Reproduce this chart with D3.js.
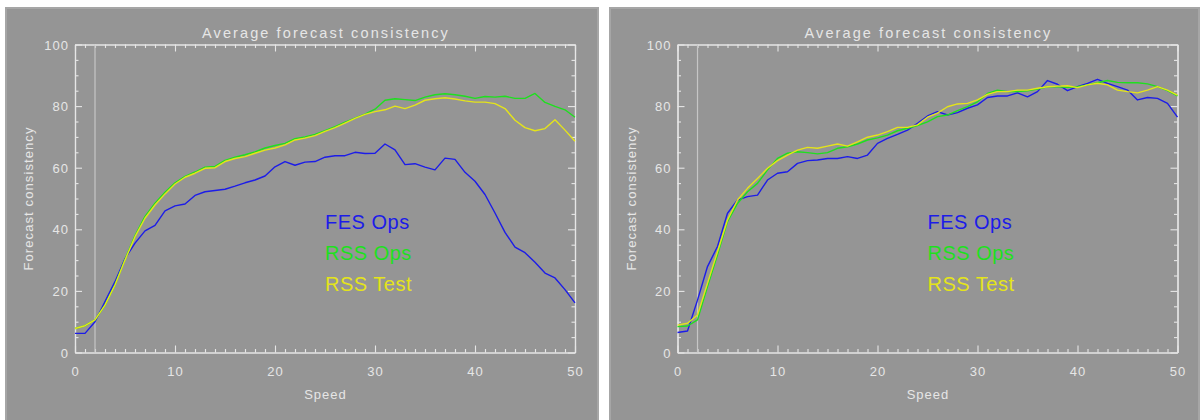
<!DOCTYPE html>
<html>
<head>
<meta charset="utf-8">
<script src="https://cdn.jsdelivr.net/npm/d3@7"></script>
<style>
  html, body { margin: 0; padding: 0; background: #ffffff; }
  svg { display: block; }
  text { font-family: "Liberation Sans", Arial, sans-serif; }
</style>
</head>
<body>
<svg id="chart" width="1200" height="420"></svg>
<script>
// ---- data -------------------------------------------------------------
const speeds = [0, 1, 2, 3, 4, 5, 6, 7, 8, 9, 10, 11, 12, 13, 14, 15, 16, 17, 18, 19, 20,
  21, 22, 23, 24, 25, 26, 27, 28, 29, 30, 31, 32, 33, 34, 35, 36, 37, 38, 39, 40,
  41, 42, 43, 44, 45, 46, 47, 48, 49, 50];

// Left panel
const leftFesOps = [6.2, 6.2, 10.0, 16.5, 23.0, 30.5, 35.5, 39.5, 41.3, 46.0, 47.6,
  48.2, 51.0, 52.2, 52.6, 53.0, 54.0, 55.1, 56.0, 57.3, 60.3,
  62.0, 60.8, 61.8, 62.0, 63.4, 63.9, 63.9, 65.0, 64.6, 64.7,
  67.7, 65.8, 61.0, 61.3, 60.2, 59.3, 63.1, 62.7, 58.5, 55.6,
  51.3, 45.3, 39.0, 34.2, 32.4, 29.3, 25.8, 24.2, 20.4, 16.1];
const leftRssOps = [7.8, 8.7, 10.6, 15.4, 22.0, 30.2, 38.0, 44.2, 48.5, 52.0, 55.1,
  57.2, 58.6, 60.2, 60.4, 62.4, 63.4, 64.2, 65.1, 66.4, 67.2,
  67.9, 69.4, 70.0, 70.8, 72.0, 73.3, 74.8, 76.1, 77.4, 79.0,
  81.9, 82.4, 82.1, 81.8, 82.9, 83.7, 84.0, 83.7, 83.2, 82.5,
  83.1, 82.9, 83.2, 82.5, 82.5, 84.1, 81.2, 79.9, 78.8, 76.4];
const leftRssTest = [7.8, 8.7, 10.6, 15.4, 21.9, 30.0, 37.6, 43.6, 47.9, 51.5, 54.7,
  56.9, 58.2, 59.8, 60.0, 62.0, 63.0, 63.6, 64.7, 65.7, 66.4,
  67.4, 69.0, 69.6, 70.4, 71.8, 73.0, 74.5, 76.0, 77.3, 78.2,
  78.8, 80.0, 79.2, 80.3, 81.9, 82.4, 82.7, 82.3, 81.7, 81.3,
  81.3, 80.8, 79.2, 75.4, 73.0, 72.0, 72.7, 75.6, 72.2, 68.6];

// Right panel
const rightFesOps = [6.5, 7.0, 17.0, 27.9, 34.4, 45.2, 49.5, 50.6, 51.1, 56.0, 58.2,
  58.7, 61.4, 62.3, 62.5, 63.0, 63.0, 63.6, 63.0, 64.1, 67.9,
  69.5, 70.8, 72.2, 74.4, 76.8, 78.2, 77.1, 77.9, 79.3, 80.4,
  82.8, 83.3, 83.3, 84.3, 83.0, 84.7, 88.3, 87.1, 85.0, 86.3,
  87.4, 88.7, 87.4, 86.3, 85.2, 82.0, 82.8, 82.5, 80.9, 76.4];
const rightRssOps = [8.4, 8.6, 10.6, 21.4, 31.7, 42.5, 48.4, 52.2, 54.9, 59.3, 63.0,
  64.7, 65.2, 64.9, 64.5, 64.9, 66.3, 66.8, 67.7, 69.0, 69.7,
  70.6, 72.0, 72.8, 73.7, 74.9, 76.6, 77.1, 78.5, 79.8, 81.4,
  84.1, 85.2, 84.7, 84.7, 85.0, 85.5, 86.3, 86.3, 86.1, 86.3,
  86.9, 87.6, 88.3, 87.7, 87.6, 87.6, 87.2, 86.3, 85.0, 83.3];
const rightRssTest = [8.9, 9.5, 12.2, 22.5, 32.7, 43.0, 49.5, 53.3, 56.5, 59.8, 62.3,
  64.1, 65.7, 66.6, 66.3, 67.0, 67.7, 67.0, 68.4, 69.9, 70.6,
  71.7, 73.1, 73.1, 73.9, 76.4, 77.7, 79.8, 80.7, 80.9, 82.0,
  83.8, 84.7, 84.7, 85.2, 85.2, 85.8, 86.3, 86.5, 86.6, 86.0,
  86.9, 87.4, 86.9, 85.2, 84.7, 84.3, 85.2, 86.3, 85.2, 83.6];

const seriesNames = ["FES Ops", "RSS Ops", "RSS Test"];
const seriesColors = ["#1c1ce8", "#1ee01e", "#e4e41a"];
const legendValues = [40, 30, 20];     // legend rows sit at these y values
const legendSpeed = 25;                // ... and at this x value

const xMajorTicks = [0, 10, 20, 30, 40, 50];
const xMinorTicks = [1, 2, 3, 4, 5, 6, 7, 8, 9, 11, 12, 13, 14, 15, 16, 17, 18, 19,
  21, 22, 23, 24, 25, 26, 27, 28, 29, 31, 32, 33, 34, 35, 36, 37, 38, 39,
  41, 42, 43, 44, 45, 46, 47, 48, 49];
const yMajorTicks = [0, 20, 40, 60, 80, 100];
const yMinorTicks = [5, 10, 15, 25, 30, 35, 45, 50, 55, 65, 70, 75, 85, 90, 95];
const thresholdSpeed = 2;

const titleText = "Average forecast consistency";
const xLabelText = "Speed";
const yLabelText = "Forecast consistency";

// ---- layout -----------------------------------------------------------
const panels = [
  { x: 5, width: 594, plotX: 75, series: [leftFesOps, leftRssOps, leftRssTest] },
  { x: 609, width: 591, plotX: 677.5, series: [rightFesOps, rightRssOps, rightRssTest] }
];
const plotTop = 44.5, plotBottom = 352.5, plotWidth = 500;
const panelBg = "#959595", fg = "#e6e6e6";

const svg = d3.select("#chart");

panels.forEach(p => {
  const g = svg.append("g");

  g.append("rect")
    .attr("x", p.x + 1).attr("y", 8)
    .attr("width", p.width - 2).attr("height", 420)
    .attr("fill", panelBg)
    .attr("stroke", "#a6a6a6").attr("stroke-width", 2);

  const x = d3.scaleLinear().domain([0, 50]).range([p.plotX, p.plotX + plotWidth]);
  const y = d3.scaleLinear().domain([0, 100]).range([plotBottom, plotTop]);

  const styleAxis = sel => {
    sel.select(".domain").attr("stroke", fg).attr("stroke-width", 1.2);
    sel.selectAll(".tick line").attr("stroke", fg).attr("stroke-width", 1.1);
    sel.selectAll(".tick text").attr("fill", fg)
      .style("font-size", "13px").style("letter-spacing", "1px");
  };

  // bottom axis
  g.append("g").attr("transform", `translate(0,${plotBottom})`)
    .call(d3.axisBottom(x).tickValues(xMajorTicks).tickSize(-7).tickSizeOuter(0)
      .tickFormat(d3.format("d")))
    .call(styleAxis)
    .call(s => s.selectAll(".tick text").attr("y", 23.5).attr("dy", 0));
  g.append("g").attr("transform", `translate(0,${plotBottom})`)
    .call(d3.axisBottom(x).tickValues(xMinorTicks).tickSize(-3.5).tickSizeOuter(0).tickFormat(""))
    .call(styleAxis);

  // top axis
  g.append("g").attr("transform", `translate(0,${plotTop})`)
    .call(d3.axisTop(x).tickValues(xMajorTicks).tickSize(-7).tickSizeOuter(0).tickFormat(""))
    .call(styleAxis);
  g.append("g").attr("transform", `translate(0,${plotTop})`)
    .call(d3.axisTop(x).tickValues(xMinorTicks).tickSize(-3.5).tickSizeOuter(0).tickFormat(""))
    .call(styleAxis);

  // left axis
  g.append("g").attr("transform", `translate(${p.plotX},0)`)
    .call(d3.axisLeft(y).tickValues(yMajorTicks).tickSize(-7).tickSizeOuter(0)
      .tickPadding(6).tickFormat(d3.format("d")))
    .call(styleAxis)
    .call(s => s.selectAll(".tick text").attr("dy", "0.36em"));
  g.append("g").attr("transform", `translate(${p.plotX},0)`)
    .call(d3.axisLeft(y).tickValues(yMinorTicks).tickSize(-3.5).tickSizeOuter(0).tickFormat(""))
    .call(styleAxis);

  // right axis
  g.append("g").attr("transform", `translate(${p.plotX + plotWidth},0)`)
    .call(d3.axisRight(y).tickValues(yMajorTicks).tickSize(-7).tickSizeOuter(0).tickFormat(""))
    .call(styleAxis);
  g.append("g").attr("transform", `translate(${p.plotX + plotWidth},0)`)
    .call(d3.axisRight(y).tickValues(yMinorTicks).tickSize(-3.5).tickSizeOuter(0).tickFormat(""))
    .call(styleAxis);

  // threshold marker
  g.append("line")
    .attr("x1", x(thresholdSpeed)).attr("x2", x(thresholdSpeed))
    .attr("y1", plotTop).attr("y2", plotBottom)
    .attr("stroke", "#c6c6c6").attr("stroke-width", 1.2);

  // series lines
  const line = d3.line().x((d, i) => x(speeds[i])).y(d => y(d));
  p.series.forEach((vals, i) => {
    g.append("path")
      .datum(vals)
      .attr("d", line)
      .attr("fill", "none")
      .attr("stroke", seriesColors[i])
      .attr("stroke-width", 1.4)
      .attr("stroke-linejoin", "round");
  });

  // legend
  seriesNames.forEach((name, i) => {
    g.append("text")
      .attr("x", x(legendSpeed)).attr("y", y(legendValues[i]))
      .attr("fill", seriesColors[i])
      .style("font-size", "20px")
      .style("letter-spacing", "0.5px")
      .text(name);
  });

  const mid = p.plotX + plotWidth / 2;

  // title
  g.append("text")
    .attr("x", mid + 1).attr("y", 37.5)
    .attr("text-anchor", "middle")
    .attr("fill", fg)
    .style("font-size", "14.5px")
    .style("letter-spacing", "2.1px")
    .text(titleText);

  // x label
  g.append("text")
    .attr("x", mid + 0.5).attr("y", 399)
    .attr("text-anchor", "middle")
    .attr("fill", fg)
    .style("font-size", "13px")
    .style("letter-spacing", "1px")
    .text(xLabelText);

  // y label
  g.append("text")
    .attr("transform", `translate(${p.plotX - 42},${(plotTop + plotBottom) / 2}) rotate(-90)`)
    .attr("text-anchor", "middle")
    .attr("fill", fg)
    .style("font-size", "13px")
    .style("letter-spacing", "1.1px")
    .text(yLabelText);
});
</script>
</body>
</html>
